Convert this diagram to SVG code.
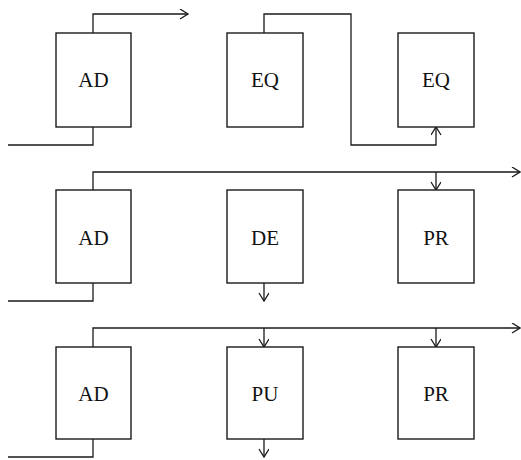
<svg xmlns="http://www.w3.org/2000/svg" width="521" height="460" viewBox="0 0 521 460">
  <style>
    .box { fill: #ffffff; stroke: #1a1a1a; stroke-width: 1.4; }
    .lbl { font-family: "Liberation Serif", "DejaVu Serif", serif; font-size: 21px; fill: #111111; text-anchor: middle; }
    .wire { fill: none; stroke: #1a1a1a; stroke-width: 1.3; }
    .tip { fill: none; stroke: #1a1a1a; stroke-width: 1.3; }
  </style>
  <defs>
    <marker id="open" markerWidth="12" markerHeight="12" refX="9" refY="5" orient="auto" markerUnits="userSpaceOnUse">
      <path class="tip" d="M1,0 L9,5 L1,10"/>
    </marker>
  </defs>
  <rect width="521" height="460" fill="#ffffff"/>

  <g id="connectors">
    <!-- row 1 -->
    <path class="wire" d="M8,145 H93 V127"/>
    <path class="wire" d="M93,33 V14 H188" marker-end="url(#open)"/>
    <path class="wire" d="M264,33 V14 H351 V145 H436 V127" marker-end="url(#open)"/>
    <!-- row 2 -->
    <path class="wire" d="M8,301 H93 V283"/>
    <path class="wire" d="M93,190 V172 H520" marker-end="url(#open)"/>
    <path class="wire" d="M436,172 V190" marker-end="url(#open)"/>
    <path class="wire" d="M264,283 V301" marker-end="url(#open)"/>
    <!-- row 3 -->
    <path class="wire" d="M8,457 H93 V439"/>
    <path class="wire" d="M93,347 V328 H520" marker-end="url(#open)"/>
    <path class="wire" d="M264,328 V347" marker-end="url(#open)"/>
    <path class="wire" d="M436,328 V347" marker-end="url(#open)"/>
    <path class="wire" d="M264,439 V457" marker-end="url(#open)"/>
  </g>

  <g id="ad1"><rect class="box" x="56" y="33" width="75" height="94"/><text class="lbl" x="93.5" y="87">AD</text></g>
  <g id="eq1"><rect class="box" x="227" y="33" width="76" height="94"/><text class="lbl" x="265" y="87">EQ</text></g>
  <g id="eq2"><rect class="box" x="398" y="33" width="76" height="94"/><text class="lbl" x="436" y="87">EQ</text></g>

  <g id="ad2"><rect class="box" x="56" y="190" width="75" height="93"/><text class="lbl" x="93.5" y="245">AD</text></g>
  <g id="de"><rect class="box" x="227" y="190" width="76" height="93"/><text class="lbl" x="265" y="245">DE</text></g>
  <g id="pr1"><rect class="box" x="398" y="190" width="76" height="93"/><text class="lbl" x="436" y="245">PR</text></g>

  <g id="ad3"><rect class="box" x="56" y="347" width="75" height="92"/><text class="lbl" x="93.5" y="401">AD</text></g>
  <g id="pu"><rect class="box" x="227" y="347" width="76" height="92"/><text class="lbl" x="265" y="401">PU</text></g>
  <g id="pr2"><rect class="box" x="398" y="347" width="76" height="92"/><text class="lbl" x="436" y="401">PR</text></g>
</svg>
